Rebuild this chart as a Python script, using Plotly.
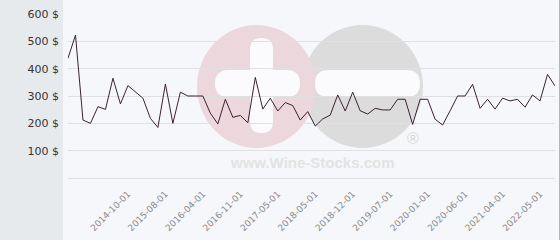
import plotly.graph_objects as go

dates = [
    "2012-06-01", "2012-12-01", "2013-03-01", "2013-06-01", "2013-10-01", "2014-01-01", "2014-04-01", "2014-07-01",
    "2014-10-01", "2014-12-01", "2015-02-01", "2015-04-01", "2015-06-01",
    "2015-08-01", "2015-10-01", "2015-12-01", "2016-01-01", "2016-02-01",
    "2016-04-01", "2016-05-01", "2016-07-01", "2016-08-01", "2016-10-01",
    "2016-11-01", "2016-12-01", "2017-01-01", "2017-03-01", "2017-04-01",
    "2017-05-01", "2017-07-01", "2017-09-01", "2017-12-01", "2018-02-01",
    "2018-05-01", "2018-06-01", "2018-08-01", "2018-09-01", "2018-11-01",
    "2018-12-01", "2019-01-01", "2019-03-01", "2019-04-01", "2019-06-01",
    "2019-07-01", "2019-08-01", "2019-09-01", "2019-10-01", "2019-12-01",
    "2020-01-01", "2020-02-01", "2020-03-01", "2020-04-01", "2020-05-01",
    "2020-06-01", "2020-08-01", "2020-10-01", "2020-12-01", "2021-02-01",
    "2021-04-01", "2021-07-01", "2021-09-01", "2021-12-01", "2022-03-01",
    "2022-05-01", "2022-08-01", "2022-11-01",
]

prices = [
    438, 523, 212, 200, 261, 251, 365, 271, 338, 316,
    292, 218, 185, 344, 200, 314, 300, 300, 300, 237,
    198, 288, 222, 229, 202, 368, 252, 292, 245, 276,
    265, 212, 243, 190, 216, 230, 304, 245, 314, 246,
    234, 255, 249, 249, 288, 288, 196, 288, 288, 215,
    194, 246, 300, 300, 343, 255, 288, 252, 292, 282,
    288, 259, 304, 282, 379, 337,
]

tick_labels = [
    "2014-10-01", "2015-08-01", "2016-04-01", "2016-11-01", "2017-05-01", "2018-05-01",
    "2018-12-01", "2019-07-01", "2020-01-01", "2020-06-01", "2021-04-01", "2022-05-01",
]

y_ticks = [100, 200, 300, 400, 500, 600]
y_tick_text = [f"{v} $" for v in y_ticks]

W, H = 560, 240
L, R, T, B = 68, 5, 14, 62
PW, PH = W - L - R, H - T - B


def px(x):
    return (x - L) / PW


def py(y):
    return (H - B - y) / PH


fig = go.Figure()
fig.add_trace(go.Scatter(
    x=dates, y=prices, mode="lines",
    line=dict(color="#3b2232", width=1),
    hoverinfo="x+y", showlegend=False,
))

shapes = []
# left grey panel
shapes.append(dict(type="rect", xref="paper", yref="paper", layer="below",
                   x0=px(0), x1=px(63), y0=py(H), y1=py(0),
                   fillcolor="#e7eaed", line=dict(width=0)))
# right border
shapes.append(dict(type="line", xref="paper", yref="paper", layer="above",
                   x0=px(559.5), x1=px(559.5), y0=py(H), y1=py(0),
                   line=dict(color="#b5b5b5", width=1)))
# watermark circles
shapes.append(dict(type="circle", xref="paper", yref="paper", layer="below",
                   x0=px(302), x1=px(423), y0=py(148), y1=py(25),
                   fillcolor="#dcdcdc", line=dict(width=0)))
shapes.append(dict(type="circle", xref="paper", yref="paper", layer="below",
                   x0=px(197), x1=px(316), y0=py(148), y1=py(25),
                   fillcolor="#ecd7dd", line=dict(width=0)))


def rounded_bar(x0, x1, y0, y1):
    r = min(x1 - x0, y1 - y0) / 2.0
    if (x1 - x0) >= (y1 - y0):
        path = (f"M {px(x0 + r)},{py(y0)} L {px(x1 - r)},{py(y0)} "
                f"Q {px(x1)},{py(y0)} {px(x1)},{py((y0 + y1) / 2)} "
                f"Q {px(x1)},{py(y1)} {px(x1 - r)},{py(y1)} "
                f"L {px(x0 + r)},{py(y1)} "
                f"Q {px(x0)},{py(y1)} {px(x0)},{py((y0 + y1) / 2)} "
                f"Q {px(x0)},{py(y0)} {px(x0 + r)},{py(y0)} Z")
    else:
        path = (f"M {px(x0)},{py(y0 + r)} "
                f"Q {px(x0)},{py(y0)} {px((x0 + x1) / 2)},{py(y0)} "
                f"Q {px(x1)},{py(y0)} {px(x1)},{py(y0 + r)} "
                f"L {px(x1)},{py(y1 - r)} "
                f"Q {px(x1)},{py(y1)} {px((x0 + x1) / 2)},{py(y1)} "
                f"Q {px(x0)},{py(y1)} {px(x0)},{py(y1 - r)} Z")
    return dict(type="path", xref="paper", yref="paper", layer="below", path=path,
                fillcolor="#fbfbfd", line=dict(width=0))


shapes.append(rounded_bar(250, 273, 38, 133))
shapes.append(rounded_bar(215, 300, 70, 97))
shapes.append(rounded_bar(315, 420, 70, 97))

annotations = [
    dict(text="<b>www.Wine-Stocks.com</b>", xref="paper", yref="paper",
         x=px(312), y=py(162), xanchor="center", yanchor="middle", showarrow=False,
         font=dict(family="Liberation Sans", size=15, color="#e3e3e3")),
    dict(text="®", xref="paper", yref="paper", x=px(413), y=py(138),
         xanchor="center", yanchor="middle", showarrow=False,
         font=dict(family="Liberation Sans", size=16, color="#d8d8d8")),
]

tick_vals = [d for d in dates if d in tick_labels]

fig.update_layout(
    width=W, height=H,
    margin=dict(l=L, r=R, t=T, b=B, pad=0),
    paper_bgcolor="#f6f7fa",
    plot_bgcolor="rgba(0,0,0,0)",
    shapes=shapes,
    annotations=annotations,
    showlegend=False,
    xaxis=dict(
        type="category",
        range=[0, len(dates) - 1],
        tickmode="array", tickvals=tick_vals, ticktext=tick_vals,
        tickangle=-45,
        tickfont=dict(family="DejaVu Sans", size=9, color="#8a8a8a"),
        showgrid=False, zeroline=False, showline=False, ticks="",
        ticklabelstandoff=8, automargin=False,
    ),
    yaxis=dict(
        range=[0, 600],
        tickmode="array", tickvals=y_ticks, ticktext=y_tick_text,
        tickfont=dict(family="DejaVu Sans", size=11, color="#333333"),
        showgrid=True, gridcolor="#e0e0e3", gridwidth=1,
        zeroline=True, zerolinecolor="#e0e0e3", zerolinewidth=1,
        showline=False, ticks="", ticklabelstandoff=8, automargin=False,
    ),
)

fig.write_html("out.html")
